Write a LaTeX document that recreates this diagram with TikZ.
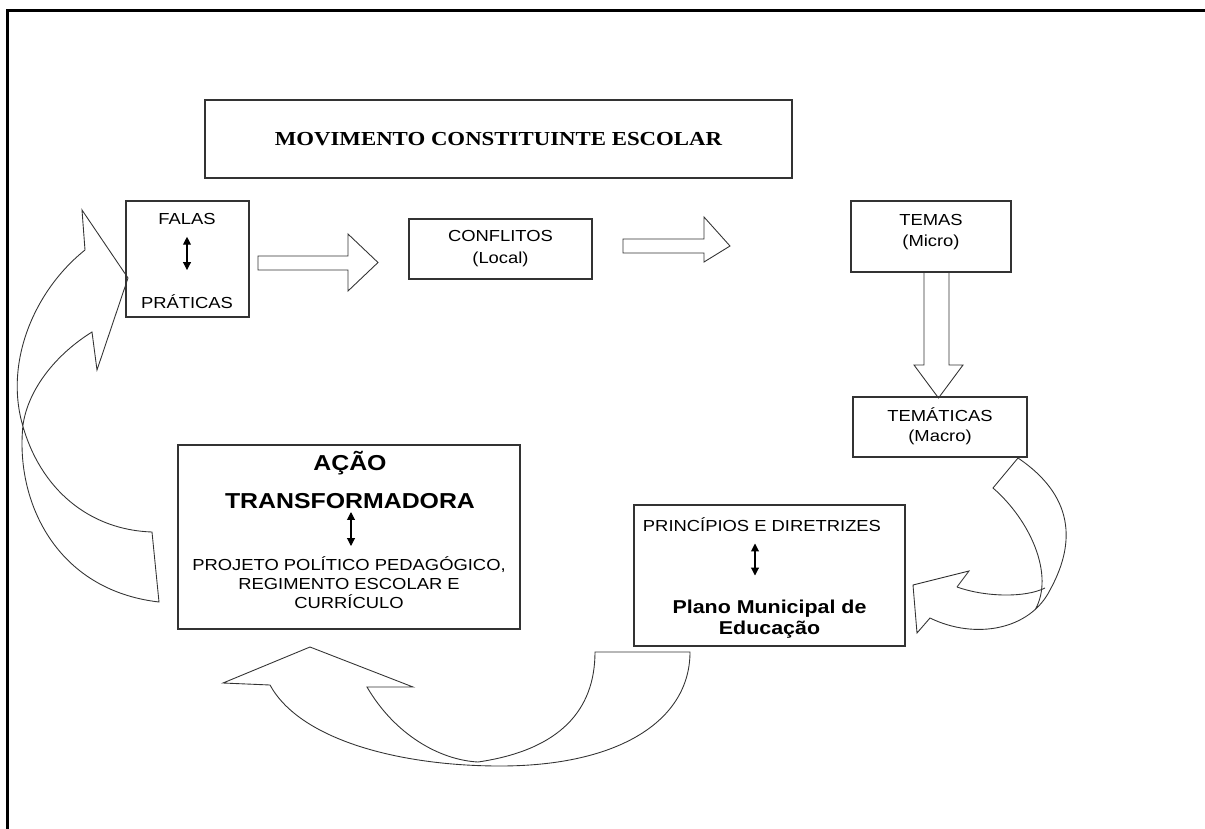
\documentclass[tikz,border=0pt]{standalone}
\usepackage{fontspec}
\setmainfont[FakeStretch=1.15]{Liberation Sans}
\newfontfamily\titlefont[FakeStretch=1.15]{Liberation Serif}
\usetikzlibrary{arrows.meta}
\usetikzlibrary{calc}
\usetikzlibrary{fit}

\tikzset{
	box/.style={draw=black!80, line width=0.6pt, inner sep=0pt},
	txt/.style={inner sep=0pt, align=center, text height=7pt, text depth=0pt, font=\fontsize{9.1}{11.5}\selectfont},
	lines/.style={inner sep=0pt, align=center, font=\fontsize{9.1}{11.5}\selectfont},
	bigtxt/.style={inner sep=0pt, align=center, font=\fontsize{12.3}{14}\selectfont\bfseries},
	hollow/.style={draw=black!80, line width=0.5pt, line join=miter},
	dbl/.style={{Triangle[width=4.5pt,length=4.5pt]}-{Triangle[width=4.5pt,length=4.5pt]}, line width=0.6pt},
}

\begin{document}
\begin{tikzpicture}[x=0.02cm, y=-0.02cm]
	\useasboundingbox (0,0) rectangle (1205,829);
	\draw[line width=1.7pt] (7.5,829) -- (7.5,10.5) -- (1205,10.5);

	% boxes
	\node[box, fit={(205,100) (792,178)}] (titlebox) {};
	\node[box, fit={(126,201) (249,317)}] (falasbox) {};
	\node[box, fit={(409,219) (592,279)}] (conflbox) {};
	\node[box, fit={(851,201) (1011,272)}] (temasbox) {};
	\node[box, fit={(853,397) (1027,457)}] (tematbox) {};
	\node[box, fit={(634,505) (905,646)}] (princbox) {};
	\node[box, fit={(178,445) (520,629)}] (acaobox) {};

	% texts
	\node[inner sep=0pt, font=\titlefont\fontsize{11.3}{13}\selectfont\bfseries] (title) at (titlebox.center) {MOVIMENTO CONSTITUINTE ESCOLAR};
	\node[txt] (falas) at (187,218) {FALAS};
	\node[txt] (praticas) at (187,302) {PRÁTICAS};
	\node[lines, font=\fontsize{9.1}{12.5}\selectfont] (confl) at (500.5,249) {CONFLITOS\\(Local)};
	\node[lines] (temas) at (931,232) {TEMAS\\(Micro)};
	\node[lines] (temat) at (940,426) {TEMÁTICAS\\(Macro)};
	\node[txt] (princ) at (762,525) {PRINCÍPIOS E DIRETRIZES};
	\node[bigtxt, font=\fontsize{10.6}{11.9}\selectfont\bfseries] (plano) at (769.5,619.5) {Plano Municipal de\\Educação};
	\node[bigtxt] (acao) at (350,463) {AÇÃO};
	\node[bigtxt] (transf) at (350,501) {TRANSFORMADORA};
	\node[lines, font=\fontsize{9.1}{10.8}\selectfont] (projeto) at (349,583) {PROJETO POLÍTICO PEDAGÓGICO,\\REGIMENTO ESCOLAR E\\CURRÍCULO};

	% small double arrows
	\draw[dbl, shorten <=7pt, shorten >=14.5pt] (falas) -- (praticas);
	\draw[dbl] ($(princ.south)+(-7,12)$) -- ($(princ.south)+(-7,44)$);
	\draw[dbl] ($(transf.south)+(1,3)$) -- ($(transf.south)+(1,37)$);

	% block arrows
	\draw[hollow] (258,256) -- (348,256) -- (348,234) -- (378,262.5) -- (348,291) -- (348,270) -- (258,270) -- cycle;
	\draw[hollow] (623,239) -- (704,239) -- (704,217) -- (730,246) -- (704,262) -- (704,253) -- (623,253) -- cycle;
	\draw[hollow] (924,272) -- (924,365) -- (914,365) -- (938.5,398) -- (963,365) -- (949,365) -- (949,272);

	% curved arrows
	\draw[hollow] (85,250) -- (82,210) -- (128,278) -- (97,370) -- (92,332)
		.. controls (55,355) and (28,390) .. (23,425) .. controls (15,500) and (55,590) .. (159,602)
		-- (152,532) .. controls (90,530) and (40,490) .. (22,423) .. controls (5,360) and (35,290) .. (85,250);
	\draw[hollow] (270,685) -- (223,683) -- (310,647) -- (413,687) -- (367,687)
		.. controls (395,735) and (440,760) .. (478,762) .. controls (560,750) and (595,710) .. (595,652)
		-- (690,652) .. controls (690,720) and (620,766) .. (500,766) .. controls (400,766) and (300,740) .. (270,685);
	\draw[hollow] (957,587) -- (969,571) -- (913,585) -- (917,633) -- (930,618)
		.. controls (975,640) and (1030,630) .. (1050,590) .. controls (1072,550) and (1080,500) .. (1018,458)
		-- (993,488) .. controls (1030,520) and (1055,575) .. (1035,610);
	\draw[hollow] (957,587) .. controls (985,597) and (1025,598) .. (1045,588);
\end{tikzpicture}
\end{document}
